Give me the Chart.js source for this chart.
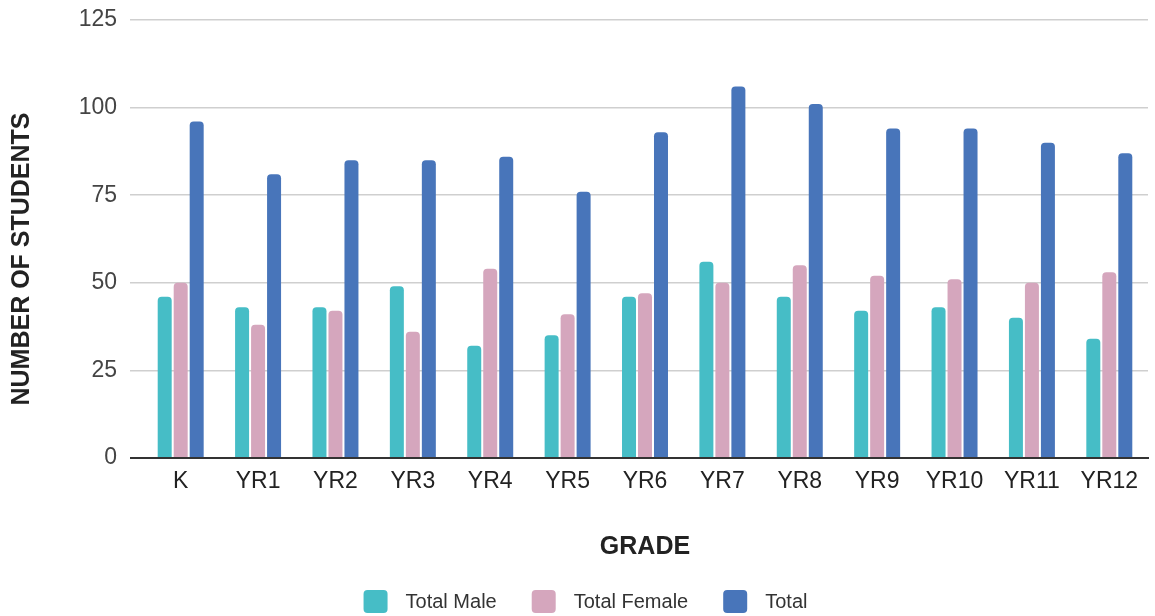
<!DOCTYPE html>
<html>
<head>
<meta charset="utf-8">
<title>Students by grade</title>
<script src="https://cdn.jsdelivr.net/npm/chart.js@4/dist/chart.umd.min.js"></script>
<style>
  html, body { margin: 0; padding: 0; background: #fff; }
  #wrap { width: 1155px; height: 616px; }
</style>
</head>
<body>
<div id="wrap"><canvas id="chart"></canvas></div>
<script>
const grades = ["K", "YR1", "YR2", "YR3", "YR4", "YR5", "YR6", "YR7", "YR8", "YR9", "YR10", "YR11", "YR12"];
const totalMale = [46, 43, 43, 49, 32, 35, 46, 56, 46, 42, 43, 40, 34];
const totalFemale = [50, 38, 42, 36, 54, 41, 47, 50, 55, 52, 51, 50, 53];
const total = [96, 81, 85, 85, 86, 76, 93, 106, 101, 94, 94, 90, 87];
const yTicks = [0, 25, 50, 75, 100, 125];

const FONT = "'Liberation Sans', Arial, sans-serif";

// y title and legend are painted by hand so they can sit where we want them
const extras = {
  id: "extras",
  afterDraw(chart) {
    const { ctx } = chart;
    ctx.save();

    // vertical axis title
    ctx.translate(22, 259);
    ctx.rotate(-Math.PI / 2);
    ctx.font = "bold 25px " + FONT;
    ctx.fillStyle = "#222";
    ctx.textAlign = "center";
    ctx.textBaseline = "middle";
    ctx.fillText("NUMBER OF STUDENTS", 0, 0);
    ctx.setTransform(1, 0, 0, 1, 0, 0);

    // legend
    const box = 24, gapText = 18, gapItem = 35;
    ctx.font = "20px " + FONT;
    const items = chart.data.datasets.map(ds => ({
      label: ds.label,
      color: ds.backgroundColor,
      w: ctx.measureText(ds.label).width,
    }));
    let width = 0;
    items.forEach((it, i) => {
      width += box + gapText + it.w + (i < items.length - 1 ? gapItem : 0);
    });
    let x = chart.width / 2 - width / 2 + 8;
    const y = 601;
    items.forEach(it => {
      ctx.fillStyle = it.color;
      ctx.beginPath();
      ctx.roundRect(x, y - 11, box, 23, 4);
      ctx.fill();
      ctx.fillStyle = "#333";
      ctx.textAlign = "left";
      ctx.textBaseline = "middle";
      ctx.fillText(it.label, x + box + gapText, y + 1);
      x += box + gapText + it.w + gapItem;
    });

    ctx.restore();
  },
};

new Chart(document.getElementById("chart"), {
  type: "bar",
  data: {
    labels: grades,
    datasets: [
      { label: "Total Male", data: totalMale, backgroundColor: "#46BDC6" },
      { label: "Total Female", data: totalFemale, backgroundColor: "#D5A6BD" },
      { label: "Total", data: total, backgroundColor: "#4875BA" },
    ],
  },
  options: {
    responsive: true,
    maintainAspectRatio: false,
    animation: false,
    layout: { padding: { top: 20, right: 7, bottom: 40, left: 0 } },
    datasets: {
      bar: {
        categoryPercentage: 0.62,
        barPercentage: 0.875,
        borderRadius: 4,
        borderSkipped: "start",
      },
    },
    plugins: {
      legend: { display: false },
      tooltip: { enabled: false },
    },
    scales: {
      x: {
        grid: { display: false, drawTicks: false },
        border: { display: true, color: "#333", width: 2 },
        ticks: {
          padding: 10,
          color: "#222",
          font: { family: FONT, size: 23 },
          maxRotation: 0,
          autoSkip: false,
        },
        title: {
          display: true,
          text: "GRADE",
          color: "#222",
          font: { family: FONT, size: 25, weight: "bold" },
          padding: { top: 0, bottom: 14 },
        },
        afterFit(scale) {
          scale.height = 616 - 40 - 458;
        },
      },
      y: {
        min: 0,
        max: 125,
        afterBuildTicks(scale) {
          scale.ticks = yTicks.map(v => ({ value: v }));
        },
        grid: {
          color: ctx => (ctx.tick && ctx.tick.value === 0 ? "#333" : "#cfcfcf"),
          tickColor: ctx => (ctx.tick && ctx.tick.value === 0 ? "#333" : "#cfcfcf"),
          lineWidth: ctx => (ctx.tick && ctx.tick.value === 0 ? 2 : 1.5),
          tickLength: 12,
        },
        border: { display: false },
        ticks: {
          padding: 13,
          color: "#444",
          font: { family: FONT, size: 23 },
        },
        afterFit(scale) {
          scale.width = 142;
          // the top label may stick out; keep the plot top fixed anyway
          scale.paddingTop = 0;
          scale.paddingBottom = 0;
        },
      },
    },
  },
  plugins: [extras],
});
</script>
</body>
</html>
